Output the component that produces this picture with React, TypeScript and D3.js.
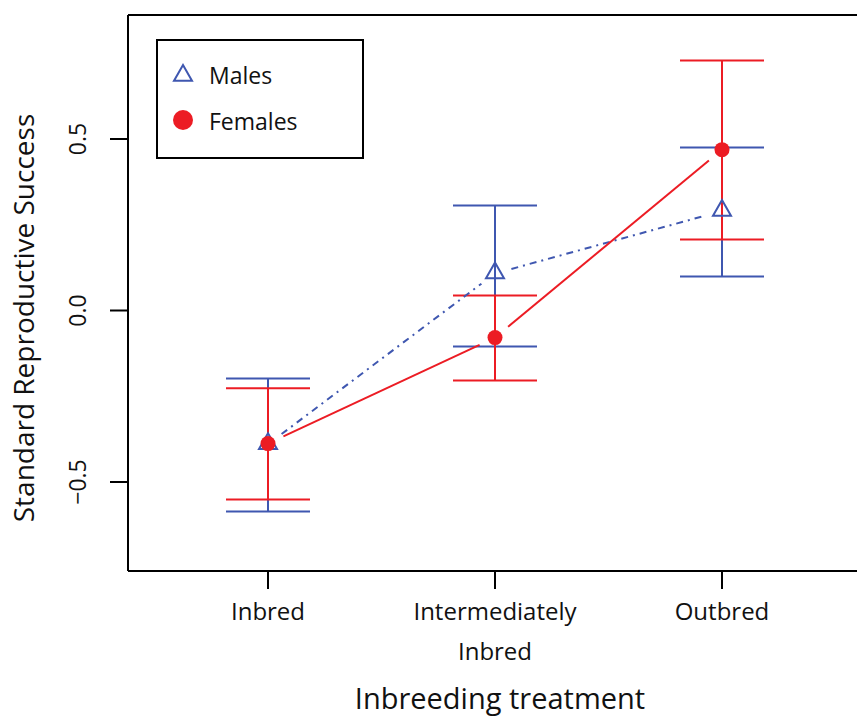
import React from "react";
import * as d3 from "d3";

const categories = ["Inbred", "Intermediately\nInbred", "Outbred"];
const maleMean = [-0.39, 0.108, 0.29];
const maleUpper = [-0.198, 0.306, 0.475];
const maleLower = [-0.586, -0.105, 0.099];
const femaleMean = [-0.388, -0.079, 0.469];
const femaleUpper = [-0.227, 0.044, 0.729];
const femaleLower = [-0.551, -0.204, 0.207];
const yTicks = [-0.5, 0.0, 0.5];
const yTickLabels = ["\u22120.5", "0.0", "0.5"];

const BLUE = "#3F57B0";
const RED = "#EC1C24";
const FONT = "'Open Sans', 'Noto Sans', sans-serif";

export default function App() {
  const W = 857, H = 718;
  const left = 128, top = 15, bottom = 571, right = 857;
  const x = d3.scalePoint<number>().domain([0, 1, 2]).range([268, 722]);
  const y = d3.scaleLinear().domain([-0.5, 0.5]).range([482, 139]);
  const cap = 42;
  const gap = 17;

  const segs = (mean: number[]) => {
    const out: { x1: number; y1: number; x2: number; y2: number }[] = [];
    for (let i = 0; i < mean.length - 1; i++) {
      const ax = x(i)!, ay = y(mean[i]), bx = x(i + 1)!, by = y(mean[i + 1]);
      const dx = bx - ax, dy = by - ay, L = Math.hypot(dx, dy);
      const ux = dx / L, uy = dy / L;
      out.push({ x1: ax + ux * gap, y1: ay + uy * gap, x2: bx - ux * gap, y2: by - uy * gap });
    }
    return out;
  };

  const errBars = (up: number[], lo: number[], color: string) =>
    up.map((u, i) => (
      <g key={i} stroke={color} strokeWidth={2}>
        <line x1={x(i)} x2={x(i)} y1={y(u)} y2={y(lo[i])} />
        <line x1={x(i)! - cap} x2={x(i)! + cap} y1={y(u)} y2={y(u)} />
        <line x1={x(i)! - cap} x2={x(i)! + cap} y1={y(lo[i])} y2={y(lo[i])} />
      </g>
    ));

  const tri = (cx: number, cy: number, s = 9) =>
    `M${cx},${cy - s} L${cx + s},${cy + s * 0.75} L${cx - s},${cy + s * 0.75} Z`;

  return (
    <svg width={W} height={H} style={{ position: "absolute", left: 0, top: 0, background: "#fff" }}>
      {/* axes frame */}
      <g stroke="#000" strokeWidth={2} fill="none">
        <line x1={left} x2={right} y1={top} y2={top} />
        <line x1={left} x2={left} y1={top} y2={bottom} />
        <line x1={left} x2={right} y1={bottom} y2={bottom} />
      </g>
      {/* y ticks */}
      {yTicks.map((t, i) => (
        <g key={i}>
          <line x1={110} x2={left} y1={y(t)} y2={y(t)} stroke="#000" strokeWidth={2} />
          <text
            transform={`translate(86,${y(t)}) rotate(-90)`}
            textAnchor="middle"
            fontFamily={FONT}
            fontSize={23}
            fill="#111"
          >
            {yTickLabels[i]}
          </text>
        </g>
      ))}
      <text
        transform={`translate(34,${318}) rotate(-90)`}
        textAnchor="middle"
        fontFamily={FONT}
        fontSize={28}
        fill="#111"
      >
        Standard Reproductive Success
      </text>
      {/* x ticks */}
      {categories.map((c, i) => (
        <g key={i}>
          <line x1={x(i)} x2={x(i)} y1={bottom} y2={589} stroke="#000" strokeWidth={2} />
          {c.split("\n").map((ln, j) => (
            <text
              key={j}
              x={x(i)}
              y={620 + j * 40}
              textAnchor="middle"
              fontFamily={FONT}
              fontSize={24}
              fill="#111"
            >
              {ln}
            </text>
          ))}
        </g>
      ))}
      <text x={500} y={709} textAnchor="middle" fontFamily={FONT} fontSize={29} fill="#111">
        Inbreeding treatment
      </text>

      {/* error bars */}
      {errBars(maleUpper, maleLower, BLUE)}
      {errBars(femaleUpper, femaleLower, RED)}

      {/* connecting lines */}
      {segs(maleMean).map((s, i) => (
        <line key={"m" + i} {...s} stroke={BLUE} strokeWidth={2} strokeDasharray="7,5,2,5" />
      ))}
      {segs(femaleMean).map((s, i) => (
        <line key={"f" + i} {...s} stroke={RED} strokeWidth={2} />
      ))}

      {/* points */}
      {maleMean.map((m, i) => (
        <path key={"mp" + i} d={tri(x(i)!, y(m) - 2)} fill="#fff" fillOpacity={i === 0 ? 1 : 0} stroke={BLUE} strokeWidth={2} />
      ))}
      {femaleMean.map((m, i) => (
        <circle key={"fp" + i} cx={x(i)} cy={y(m)} r={7.5} fill={RED} />
      ))}

      {/* legend */}
      <rect x={157} y={40} width={206} height={118} fill="#fff" stroke="#000" strokeWidth={2} />
      <path d={tri(183, 74, 9)} fill="none" stroke={BLUE} strokeWidth={2} />
      <circle cx={183} cy={120} r={10} fill={RED} />
      <text x={209} y={84} fontFamily={FONT} fontSize={23} fill="#111">Males</text>
      <text x={209} y={130} fontFamily={FONT} fontSize={23} fill="#111">Females</text>
    </svg>
  );
}
